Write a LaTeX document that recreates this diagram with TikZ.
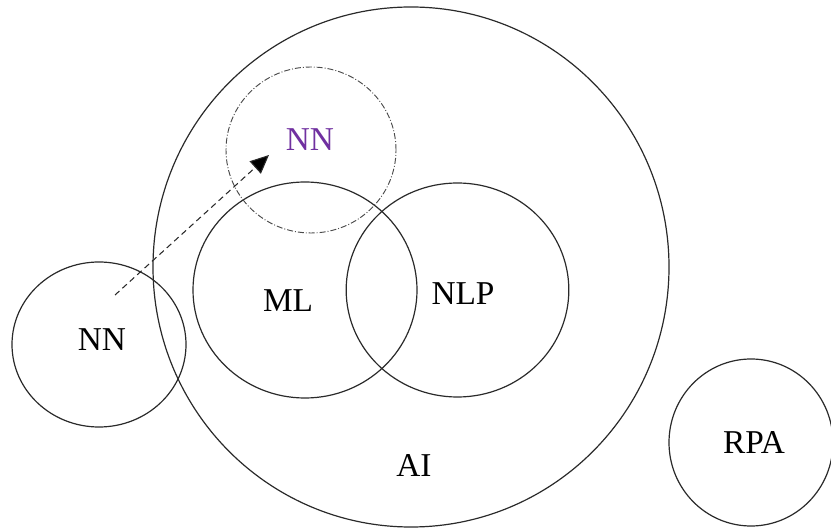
\documentclass[tikz,border=0pt]{standalone}
\usepackage{fontspec}
\setmainfont{Liberation Serif}
\usetikzlibrary{shapes.geometric,arrows.meta}
\definecolor{nnpurple}{HTML}{7030A0}
\definecolor{ring}{HTML}{2A2A2A}
\tikzset{
  setring/.style={draw=ring, line width=0.9pt, ellipse, inner sep=0pt},
  guessring/.style={draw=ring!85, line width=0.7pt, ellipse, inner sep=0pt,
    dash pattern=on 4.5pt off 1.5pt on 0.7pt off 1.5pt},
  lbl/.style={font=\fontsize{25}{30}\selectfont, inner sep=0pt},
  moveto/.style={draw=ring, line width=0.8pt, dash pattern=on 4.5pt off 3pt,
    -{Triangle[length=14pt,width=12.5pt,fill=black]}}
}
\begin{document}
\begin{tikzpicture}[x=0.75pt,y=-0.75pt]
  \useasboundingbox (0,0) rectangle (831,530);
  % outer set and subsets
  \node[setring, minimum width=387pt, minimum height=390pt] (ai) at (411,267) {};
  \node[setring, minimum width=168pt, minimum height=162pt] (ml) at (305,290) {};
  \node[setring, minimum width=167pt, minimum height=160.5pt] (nlp) at (457.5,290) {};
  \node[setring, minimum width=130.5pt, minimum height=123.75pt] (nnout) at (99,344.5) {};
  \node[setring, minimum width=123pt, minimum height=125.25pt] (rpa) at (751,442.5) {};
  \node[guessring, minimum width=127.5pt, minimum height=124.5pt] (nnin) at (311,150) {};
  % labels
  \node[lbl] (tai) at (414,465) {AI};
  \node[lbl] (tml) at (288,301) {ML};
  \node[lbl] (tnlp) at (463,294) {NLP};
  \node[lbl] (tnnout) at (102,340) {NN};
  \node[lbl] (trpa) at (754,442) {RPA};
  \node[lbl, text=nnpurple] (tnnin) at (310,140) {NN};
  % move of NN into the AI set
  \coordinate (from) at (115,295);
  \coordinate (to) at (269,155);
  \draw[moveto] (from) -- (to);
\end{tikzpicture}
\end{document}
